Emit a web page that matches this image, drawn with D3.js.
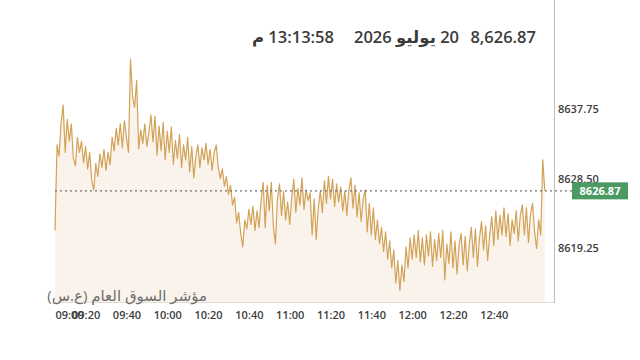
<!DOCTYPE html>
<meta charset="utf-8">
<style>
    body {
        margin: 0;
        background-color: #fff;
    }

    svg text {
        font-family: "Open Sans", "Noto Sans", "DejaVu Sans", sans-serif;
    }

    .head {
        font-size: 16.5px;
        font-weight: 600;
        fill: #3b3b3b;
    }

    .tick text {
        font-size: 11px;
        font-weight: 600;
        fill: #3d3d3d;
    }
</style>

<body>
    <script src="https://cdn.jsdelivr.net/npm/d3@7"></script>
    <script>

        var width = 640,
            height = 360;

        // one value per minute, starting 09:05
        var startTime = "09:05";
        var endTime = "13:10";
        var values = [
            8621.6, 8633.0, 8631.5, 8636.0, 8638.3, 8632.0, 8636.4, 8633.5, 8635.8, 8631.2,
            8630.2, 8634.0, 8632.0, 8633.5, 8630.6, 8632.8, 8629.8, 8632.0, 8628.2, 8627.0,
            8630.5, 8628.8, 8631.8, 8630.0, 8632.4, 8629.6, 8632.0, 8630.4, 8634.0, 8632.2,
            8635.2, 8633.0, 8635.8, 8632.6, 8636.2, 8634.0, 8632.0, 8644.4, 8639.5, 8638.0,
            8641.6, 8632.5, 8635.0, 8633.2, 8635.8, 8632.8, 8634.6, 8637.0, 8633.4, 8636.8,
            8631.6, 8635.5, 8632.2, 8636.0, 8631.0, 8634.8, 8632.0, 8635.4, 8630.4, 8633.6,
            8631.2, 8634.4, 8630.0, 8633.0, 8631.0, 8634.0, 8629.4, 8632.8, 8628.6, 8631.4,
            8633.0, 8630.0, 8632.6, 8631.0, 8633.2, 8630.4, 8632.4, 8629.6, 8632.0, 8633.0,
            8630.0, 8628.5, 8629.8, 8627.5, 8628.8, 8626.4, 8627.6, 8625.0, 8626.0, 8622.6,
            8624.0, 8621.2, 8619.4, 8623.0, 8621.8, 8624.4, 8622.4, 8624.8, 8621.6, 8624.2,
            8622.0, 8625.6, 8628.0, 8622.0, 8627.6, 8624.2, 8628.0, 8622.2, 8619.8, 8625.8,
            8627.8, 8623.6, 8626.8, 8623.0, 8625.4, 8622.4, 8626.0, 8628.4, 8624.0, 8627.2,
            8625.0, 8628.6, 8624.4, 8627.0, 8625.6, 8626.6, 8621.0, 8625.8, 8620.4, 8624.6,
            8626.8, 8624.0, 8628.2, 8625.2, 8628.8, 8625.8, 8628.4, 8624.8, 8627.8, 8625.4,
            8627.4, 8624.2, 8626.8, 8623.6, 8627.0, 8628.6, 8624.6, 8627.6, 8623.4, 8626.6,
            8622.8, 8625.8, 8627.0, 8621.4, 8625.2, 8621.0, 8624.6, 8620.4, 8623.0, 8619.8,
            8622.0, 8618.8, 8621.4, 8617.8, 8620.2, 8616.6, 8619.0, 8614.6, 8617.6, 8613.6,
            8617.0, 8614.8, 8619.4, 8616.6, 8620.6, 8617.8, 8621.0, 8618.0, 8621.6, 8617.4,
            8620.6, 8617.0, 8621.0, 8618.2, 8621.4, 8616.8, 8620.4, 8617.6, 8621.2, 8618.0,
            8621.6, 8615.0, 8619.8, 8617.2, 8621.4, 8616.6, 8620.2, 8615.8, 8619.6, 8621.2,
            8617.0, 8620.8, 8616.2, 8619.8, 8622.0, 8618.0, 8621.8, 8616.8, 8620.6, 8622.8,
            8619.0, 8622.2, 8617.6, 8621.0, 8623.4, 8619.6, 8624.2, 8620.4, 8623.6, 8621.0,
            8624.6, 8620.8, 8623.8, 8619.6, 8623.0, 8621.2, 8624.2, 8620.2, 8623.6, 8625.0,
            8621.0, 8624.6, 8620.0, 8623.8, 8625.2, 8621.4, 8619.2, 8623.0, 8621.0, 8631.0,
            8626.87
        ];

        var lastPrice = 8626.87;
        var yTicks = [8619.25, 8628.50, 8637.75];
        var xTickLabels = ["09:00", "09:20", "09:40", "10:00", "10:20", "10:40",
            "11:00", "11:20", "11:40", "12:00", "12:20", "12:40"];

        var headPrice = "8,626.87";
        var headDate = "20 يوليو 2026";
        var headTime = "13:13:58 م";
        var indexName = "مؤشر السوق العام (ع.س)";

        var parseTime = d3.timeParse("%H:%M");
        var t0 = parseTime(startTime);
        var data = values.map(function (v, i) {
            return { t: d3.timeMinute.offset(t0, i), v: v };
        });

        var plotLeft = 55, plotRight = 555, plotTop = 20, plotBottom = 302;

        var x = d3.scaleTime()
            .domain([t0, parseTime(endTime)])
            .range([plotLeft, plotRight]);

        var y = d3.scaleLinear()
            .domain([8612.07, 8649.62])
            .range([plotBottom, plotTop]);

        var svg = d3.select("body").append("svg")
            .attr("width", width)
            .attr("height", height);

        // area under the line
        svg.append("path")
            .datum(data)
            .attr("fill", "#faf3ec")
            .attr("d", d3.area()
                .x(function (d) { return x(d.t); })
                .y0(plotBottom)
                .y1(function (d) { return y(d.v); }));

        svg.append("path")
            .datum(data)
            .attr("fill", "none")
            .attr("stroke", "#d2a257")
            .attr("stroke-width", 1.2)
            .attr("stroke-linejoin", "round")
            .attr("d", d3.line()
                .x(function (d) { return x(d.t); })
                .y(function (d) { return y(d.v); }));

        // frame: bottom and right edges
        svg.append("line")
            .attr("x1", plotLeft).attr("x2", plotRight)
            .attr("y1", plotBottom + 0.5).attr("y2", plotBottom + 0.5)
            .attr("stroke", "#e2dcd6");
        svg.append("line")
            .attr("x1", plotRight - 0.5).attr("x2", plotRight - 0.5)
            .attr("y1", 0).attr("y2", plotBottom + 1)
            .attr("stroke", "#bdbdbd");

        // last price line + badge
        svg.append("line")
            .attr("x1", plotLeft).attr("x2", 572)
            .attr("y1", y(lastPrice)).attr("y2", y(lastPrice))
            .attr("stroke", "#6d7078")
            .attr("stroke-width", 1.2)
            .attr("stroke-dasharray", "2,3");

        var yAxis = svg.append("g")
            .attr("transform", "translate(" + plotRight + ",0)")
            .call(d3.axisRight(y).tickValues(yTicks).tickSize(0).tickPadding(3)
                .tickFormat(d3.format(".2f")));
        yAxis.select(".domain").remove();

        svg.append("rect")
            .attr("x", 572).attr("y", y(lastPrice) - 8.5)
            .attr("width", 56).attr("height", 17)
            .attr("fill", "#4b9a64");
        svg.append("text")
            .attr("x", 600).attr("y", y(lastPrice))
            .attr("dy", "0.35em")
            .attr("text-anchor", "middle")
            .attr("fill", "#fff")
            .style("font-size", "11px")
            .style("font-weight", "700")
            .text(d3.format(".2f")(lastPrice));

        var xAxis = svg.append("g")
            .attr("transform", "translate(0," + (plotBottom + 6) + ")")
            .call(d3.axisBottom(x).tickValues(xTickLabels.map(parseTime)).tickSize(0)
                .tickFormat(d3.timeFormat("%H:%M")));
        xAxis.select(".domain").remove();
        // first label is pushed inside the plot
        xAxis.selectAll(".tick text")
            .filter(function (d) { return x(d) < plotLeft + 10; })
            .attr("text-anchor", "start")
            .attr("x", function (d) { return plotLeft - x(d); });

        svg.append("text")
            .attr("x", 207).attr("y", 301)
            .attr("direction", "rtl")
            .attr("text-anchor", "start")
            .attr("fill", "#6e6e6e")
            .style("font-size", "15px")
            .text(indexName);

        // header
        svg.append("text").attr("class", "head")
            .attr("x", 536).attr("y", 43).attr("text-anchor", "end")
            .text(headPrice);
        svg.append("text").attr("class", "head")
            .attr("x", 459).attr("y", 43)
            .attr("direction", "rtl").attr("text-anchor", "start")
            .text(headDate);
        svg.append("text").attr("class", "head")
            .attr("x", 334).attr("y", 43)
            .attr("direction", "rtl").attr("text-anchor", "start")
            .text(headTime);

    </script>
</body>
